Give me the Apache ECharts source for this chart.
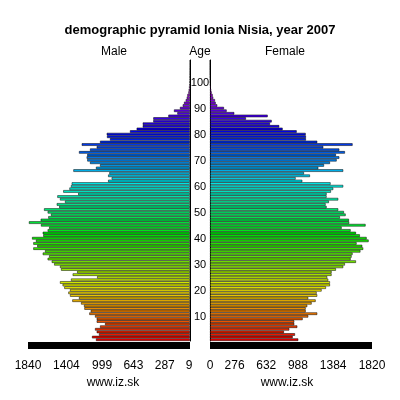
<!DOCTYPE html>
<html>
<head>
<meta charset="utf-8">
<script src="https://cdn.jsdelivr.net/npm/echarts@6/dist/echarts.min.js"></script>
<style>
  html, body { margin: 0; padding: 0; background: #fff; }
  #main { width: 400px; height: 400px; }
</style>
</head>
<body>
<div id="main"></div>
<script>
// ages 0..107
const ages = [];
for (let i = 0; i < 108; i++) ages.push(String(i));

const male = [
  1068, 1113, 1034, 1060, 1079, 1022, 965, 1060, 1060, 1079,
  1144, 1128, 1200, 1204, 1238, 1337, 1261, 1363, 1382, 1363,
  1428, 1447, 1477, 1352, 1055, 1333, 1282, 1465, 1477, 1543,
  1571, 1617, 1600, 1673, 1647, 1780, 1735, 1780, 1750, 1794,
  1667, 1673, 1617, 1600, 1693, 1830, 1696, 1610, 1580, 1617,
  1658, 1485, 1514, 1420, 1477, 1507, 1270, 1440, 1370, 1352,
  1344, 930, 890, 930, 916, 1325, 1068, 1022, 1136, 1167,
  1174, 1167, 1261, 1136, 1060, 1230, 1022, 909, 943, 946,
  682, 606, 537, 537, 417, 417, 246, 144, 182, 114,
  83, 68, 49, 37, 30, 19, 15, 11, 8, 6,
  4, 3, 2, 1, 1, 0, 0, 0
];

const female = [
  992, 929, 955, 831, 891, 981, 947, 947, 1041, 1104,
  1205, 1075, 1075, 1093, 1142, 1187, 1104, 1205, 1198, 1254,
  1303, 1348, 1348, 1329, 1317, 1366, 1366, 1415, 1497, 1516,
  1640, 1580, 1591, 1602, 1690, 1722, 1711, 1647, 1782, 1760,
  1684, 1640, 1580, 1479, 1748, 1564, 1561, 1460, 1524, 1505,
  1441, 1310, 1299, 1336, 1441, 1310, 1310, 1359, 1385, 1497,
  1355, 1037, 962, 1123, 1056, 1497, 1217, 1281, 1348, 1423,
  1453, 1415, 1516, 1453, 1273, 1602, 1205, 1078, 1078, 1075,
  974, 816, 778, 674, 693, 404, 648, 273, 187, 157,
  82, 64, 56, 37, 30, 19, 13, 9, 6, 4,
  3, 2, 1, 1, 0, 0, 0, 0
];

const maleTicks = [1840, 1404, 999, 643, 287, 9];
const femaleTicks = [0, 276, 632, 988, 1384, 1820];

const FONT = 'Liberation Sans, Arial, sans-serif';

// rainbow by age: red at 0 through magenta at 100
function ageColor(age) {
  const h = Math.min(age * 3, 300) / 60;
  const v = 0.93;
  const x = v * (1 - Math.abs((h % 2) - 1));
  let r = 0, g = 0, b = 0;
  if (h < 1) { r = v; g = x; }
  else if (h < 2) { r = x; g = v; }
  else if (h < 3) { g = v; b = x; }
  else if (h < 4) { g = x; b = v; }
  else if (h < 5) { r = x; b = v; }
  else { r = v; b = x; }
  const hex = n => Math.round(n * 255).toString(16).padStart(2, '0');
  return '#' + hex(r) + hex(g) + hex(b);
}

const chart = echarts.init(document.getElementById('main'));

const barStyle = {
  color: p => ageColor(p.dataIndex),
  borderColor: 'rgba(0,0,0,0.85)',
  borderWidth: 0.6
};

const xLabel = {
  margin: 14, fontSize: 12, color: '#000', fontFamily: FONT,
  formatter: v => String(v)
};
const nameStyle = { fontSize: 12, color: '#000', fontFamily: FONT };
const baseLine = { show: true, lineStyle: { color: '#000', width: 7, cap: 'butt' } };

chart.setOption({
  animation: false,
  title: {
    text: 'demographic pyramid Ionia Nisia, year 2007',
    left: 'center',
    top: 19,
    textStyle: { fontSize: 13, fontWeight: 'bold', color: '#000', fontFamily: FONT }
  },
  graphic: [
    { type: 'text', x: 114, y: 52, style: { text: 'Male', fill: '#000', font: '12px ' + FONT, textAlign: 'center', textVerticalAlign: 'middle' } },
    { type: 'text', x: 200, y: 52, style: { text: 'Age', fill: '#000', font: '12px ' + FONT, textAlign: 'center', textVerticalAlign: 'middle' } },
    { type: 'text', x: 285, y: 52, style: { text: 'Female', fill: '#000', font: '12px ' + FONT, textAlign: 'center', textVerticalAlign: 'middle' } }
  ],
  grid: [
    { left: 28, width: 162, top: 60, height: 281 },
    { left: 210, width: 162, top: 60, height: 281 }
  ],
  xAxis: [
    {
      gridIndex: 0, type: 'value', inverse: true, min: 0, max: 1840, offset: 4.5,
      axisLine: baseLine,
      axisTick: { show: false },
      splitLine: { show: false },
      axisLabel: Object.assign({ customValues: maleTicks }, xLabel),
      name: 'www.iz.sk', nameLocation: 'middle', nameGap: 29,
      nameTextStyle: Object.assign({ padding: [0, 0, 0, 8] }, nameStyle)
    },
    {
      gridIndex: 1, type: 'value', min: 0, max: 1820, offset: 4.5,
      axisLine: baseLine,
      axisTick: { show: false },
      splitLine: { show: false },
      axisLabel: Object.assign({ customValues: femaleTicks }, xLabel),
      name: 'www.iz.sk', nameLocation: 'middle', nameGap: 29,
      nameTextStyle: Object.assign({ padding: [0, 8, 0, 0] }, nameStyle)
    }
  ],
  yAxis: [
    {
      gridIndex: 0, type: 'category', data: ages, position: 'right',
      axisLine: { onZero: false, lineStyle: { color: '#000', width: 1 } },
      axisTick: { interval: 0, length: 3, lineStyle: { color: '#000' } },
      axisLabel: {
        interval: (i) => i > 0 && i % 10 === 0 && i <= 100,
        margin: 10, align: 'center', fontSize: 11, color: '#000', fontFamily: FONT,
        verticalAlign: 'top', lineHeight: 6
      }
    },
    {
      gridIndex: 1, type: 'category', data: ages, position: 'left',
      axisLine: { onZero: false, lineStyle: { color: '#000', width: 1 } },
      axisTick: { interval: 0, length: 3, lineStyle: { color: '#000' } },
      axisLabel: { show: false }
    }
  ],
  series: [
    {
      name: 'Male', type: 'bar', xAxisIndex: 0, yAxisIndex: 0,
      data: male, barCategoryGap: '0%', itemStyle: barStyle
    },
    {
      name: 'Female', type: 'bar', xAxisIndex: 1, yAxisIndex: 1,
      data: female, barCategoryGap: '0%', itemStyle: barStyle
    }
  ]
});
</script>
</body>
</html>
